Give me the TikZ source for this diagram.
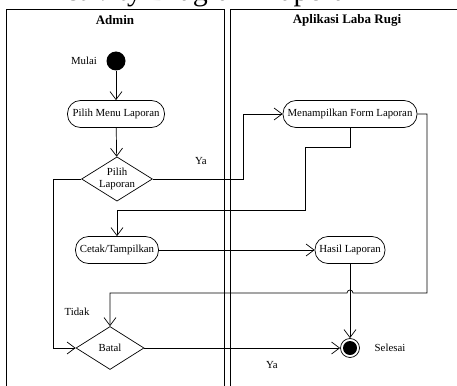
\documentclass[tikz,border=0pt]{standalone}
\usepackage{fontspec}
\setmainfont{Liberation Serif}
\usetikzlibrary{arrows.meta}
\usetikzlibrary{shapes.geometric}

\begin{document}
\begin{tikzpicture}[x=1pt, y=-1pt,
        font=\fontsize{10.8}{12}\selectfont,
        line width=0.7pt,
        >={Straight Barb[length=8pt,width=12pt]},
        lane/.style={font=\fontsize{13}{15}\selectfont\bfseries},
        activity/.style={draw, rectangle, rounded corners=13pt, minimum height=27pt, inner sep=4pt},
        decision/.style={draw, diamond, aspect=1.6, inner sep=0pt, align=center, minimum width=68pt, minimum height=43pt},
        flow/.style={->}]

        \useasboundingbox (0,0) rectangle (457,385);

        % The title, cut off at the top
        \node[anchor=base west, font=\fontsize{30}{33}\selectfont] (title) at (40,1) {Activity Diagram Laporan};

        % The swimlanes
        \draw (6,400) -- (6,9) -- (224,9) -- (224,400);
        \draw (230,400) -- (230,9) -- (470,9);
        \node[lane] (admin) at (115,20) {Admin};
        \node[lane] (aplikasi) at (347,20) {Aplikasi Laba Rugi};

        % The states
        \node[circle, fill=black, minimum size=19pt, inner sep=0pt] (start) at (116,61) {};
        \node[activity, minimum width=97pt] (menu) at (116,114) {Pilih Menu Laporan};
        \node[decision] (pilih) at (117,179) {Pilih\\Laporan};
        \node[activity, minimum width=134pt] (form) at (350,114) {Menampilkan Form Laporan};
        \node[activity, minimum width=83pt] (cetak) at (117,250) {Cetak/Tampilkan};
        \node[activity, minimum width=70pt] (hasil) at (350,250) {Hasil Laporan};
        \node[decision] (batal) at (110,348) {Batal};
        \node[circle, draw, fill=white, minimum size=19pt, inner sep=0pt] (end) at (350,348) {};
        \node[circle, fill=black, minimum size=14pt, inner sep=0pt] (endfill) at (end) {};

        % The labels
        \node (mulai) at (84,61) {Mulai};
        \node (ya1) at (201,161) {Ya};
        \node (tidak) at (77,312) {Tidak};
        \node (ya2) at (272,365) {Ya};
        \node (selesai) at (390,348) {Selesai};

        % The flows
        \draw[flow] (start) -- (menu);
        \draw[flow] (menu) -- (pilih);
        \draw[flow] (pilih.east) -- (243,179) |- (form.west);
        \draw[flow] (form.south) |- (305,147) -- (305,210) -| (cetak.north);
        \draw[flow] (form.east) -- (427,114) -- (427,293) -- (353,293)
            arc[start angle=0, end angle=180, radius=3pt] -- (110,293) -- (batal.north);
        \draw[flow] (cetak) -- (hasil);
        \draw[flow] (hasil) -- (end);
        \draw[flow] (pilih.west) -- (53,179) |- (batal.west);
        \draw[flow] (batal) -- (end);
    \end{tikzpicture}
\end{document}
